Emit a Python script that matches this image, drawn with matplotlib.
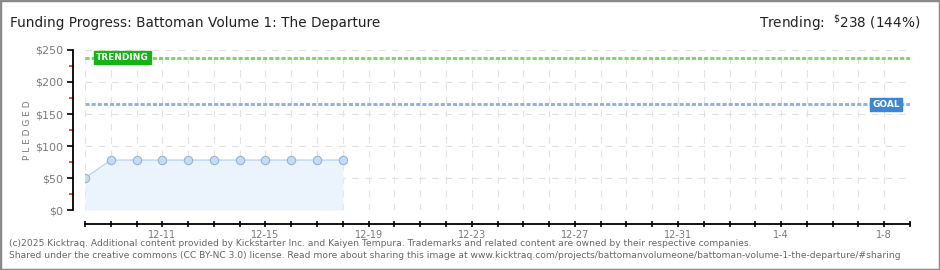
import matplotlib
matplotlib.use("Agg")
import matplotlib.pyplot as plt
from matplotlib.patches import Rectangle
import numpy as np

# ---- data ----
day_labels_all = ["12-8", "12-9", "12-10", "12-11", "12-12", "12-13", "12-14", "12-15",
                  "12-16", "12-17", "12-18", "12-19", "12-20", "12-21", "12-22", "12-23",
                  "12-24", "12-25", "12-26", "12-27", "12-28", "12-29", "12-30", "12-31",
                  "1-1", "1-2", "1-3", "1-4", "1-5", "1-6", "1-7", "1-8", "1-9"]
pledged = [50, 78, 78, 78, 78, 78, 78, 78, 78, 78, 78]
goal = 165
trending = 238
trending_pct = 144
yticks = [0, 50, 100, 150, 200, 250]
ytick_labels = ["$0", "$50", "$100", "$150", "$200", "$250"]
xlabel_every = 4
xlabel_start = 3

W, H = 940, 270
fig = plt.figure(figsize=(W / 100, H / 100), dpi=100)
plt.rcParams['font.family'] = ['DejaVu Sans']

def fx(px):
    return px / W

def fy(py):
    return 1 - py / H

# figure border
fig.patches.append(Rectangle((0, 0), 1, 1, transform=fig.transFigure, fill=False,
                             edgecolor="#8a8a8a", linewidth=2.5))

ax = fig.add_axes([fx(85), fy(210), fx(910) - fx(85), fy(50) - fy(210)])
n_days = len(day_labels_all) - 1
ax.set_xlim(0, n_days)
ax.set_ylim(0, 250)

x = np.arange(len(pledged))
ax.fill_between(x, pledged, 0, color="#ebf3fc", zorder=1, linewidth=0)
ax.plot(x, pledged, color="#b9d5f3", linewidth=1, zorder=3)
ax.scatter(x, pledged, s=36, facecolor="#c3dcf7", edgecolor="#97b4d6", linewidth=0.8, zorder=4)

# grid
for d in range(0, n_days + 1):
    ax.axvline(d, color="#e2e2e2", linestyle=(0, (6, 6)), linewidth=0.8, zorder=0)
for yv in yticks:
    ax.axhline(yv, color="#e2e2e2", linestyle=(0, (6, 6)), linewidth=0.8, zorder=0)

# goal & trending lines
ax.axhline(goal, color="#8db3e2", linestyle=(0, (1.4, 0.7)), linewidth=2.1, zorder=2)
ax.axhline(trending, color="#7bd56a", linestyle=(0, (1.4, 0.7)), linewidth=2.1, zorder=2)

# spines
for s in ["top", "right"]:
    ax.spines[s].set_visible(False)
ax.spines["left"].set_position(("outward", 9))
ax.spines["bottom"].set_position(("outward", 10))
ax.spines["left"].set_color("black")
ax.spines["bottom"].set_color("black")
ax.spines["left"].set_linewidth(1.3)
ax.spines["bottom"].set_linewidth(1.3)

ax.set_yticks(yticks)
ax.set_yticklabels(ytick_labels, color="#7a7a7a", fontsize=8)
ax.set_yticks([25, 75, 125, 175, 225], minor=True)
ax.tick_params(axis="y", which="major", length=4, width=1.2, color="black", pad=3)
ax.tick_params(axis="y", which="minor", length=3, width=1.2, color="#ff1a1a")

ax.set_xticks(range(0, n_days + 1))
xl = [lab if (i >= xlabel_start and (i - xlabel_start) % xlabel_every == 0) else ""
      for i, lab in enumerate(day_labels_all)]
ax.set_xticklabels(xl, color="#7a7a7a", fontsize=7)
ax.tick_params(axis="x", which="major", direction="inout", length=5, width=1.2, pad=2)

ax.set_ylabel("P L E D G E D", color="#7a7a7a", fontsize=6.5, labelpad=2)

# label boxes
ax.text(0.42, trending, "TRENDING", color="white", fontsize=6.5, fontweight="bold",
        va="center", ha="left", zorder=6,
        bbox=dict(boxstyle="square,pad=0.25", facecolor="#16b316", edgecolor="#16b316"))
ax.text(n_days - 1.45, goal, "GOAL", color="white", fontsize=6.5, fontweight="bold",
        va="center", ha="left", zorder=6,
        bbox=dict(boxstyle="square,pad=0.25", facecolor="#3b86d6", edgecolor="#3b86d6"))

# titles
fig.text(fx(10), fy(23), "Funding Progress: Battoman Volume 1: The Departure",
         fontsize=9.8, color="#222222", va="center", ha="left")
fig.text(fx(920), fy(23), r"Trending:  $^{\$}$238 (144%)",
         fontsize=9.8, color="#222222", va="center", ha="right")

# footer
fig.text(fx(9), fy(243), "(c)2025 Kicktraq. Additional content provided by Kickstarter Inc. and Kaiyen Tempura. "
         "Trademarks and related content are owned by their respective companies.",
         fontsize=6.6, color="#666666", va="center", ha="left")
fig.text(fx(9), fy(256), "Shared under the creative commons (CC BY-NC 3.0) license. Read more about sharing this image at "
         "www.kicktraq.com/projects/battomanvolumeone/battoman-volume-1-the-departure/#sharing",
         fontsize=6.6, color="#666666", va="center", ha="left")

fig.savefig("out.png", dpi=100)
